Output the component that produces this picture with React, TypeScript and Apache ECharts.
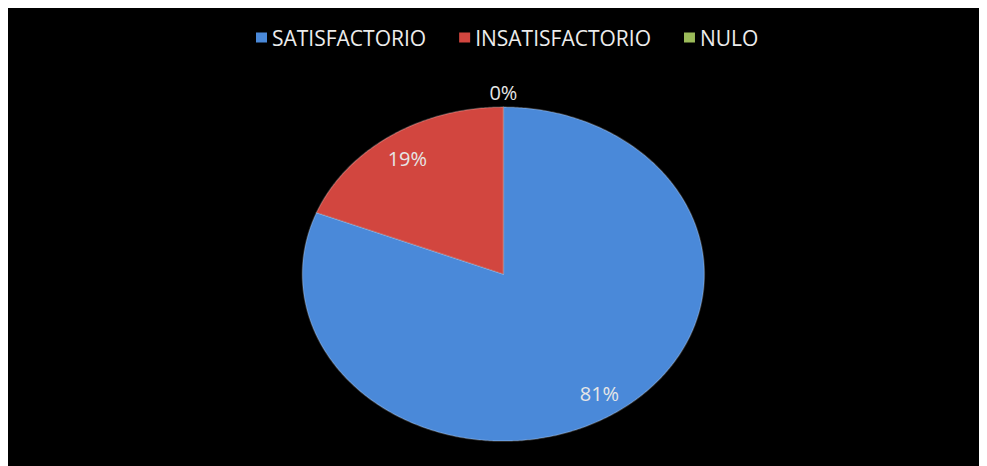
import React, { useEffect, useRef } from "react";
import * as echarts from "echarts";

const categories = ["SATISFACTORIO", "INSATISFACTORIO", "NULO"];
const values = [81, 19, 0];
const labels = ["81%", "19%", "0%"];
const colors = ["#4a89d9", "#d2463f", "#9bbb59"];

export default function App() {
  const ref = useRef<HTMLDivElement>(null);
  useEffect(() => {
    if (!ref.current) return;
    const chart = echarts.init(ref.current, null, { renderer: "svg" });
    const total = values.reduce((a, b) => a + b, 0);
    const series = categories.map((name, i) => {
      const before = values.slice(0, i).reduce((a, b) => a + b, 0);
      return {
        type: "custom",
        name,
        coordinateSystem: "none",
        data: [[values[i]]],
        itemStyle: { color: colors[i] },
        renderItem: (params: any, api: any) => {
          const w = api.getWidth();
          const h = api.getHeight();
          const cx = w * 0.506;
          const cy = h * 0.581;
          const rx = 201;
          const ry = 167;
          const v = api.value(0);
          const a0 = (before / total) * Math.PI * 2;
          const a1 = ((before + v) / total) * Math.PI * 2;
          const children: any[] = [];
          if (v > 0) {
            const pts: number[][] = [[cx, cy]];
            const steps = Math.max(4, Math.ceil((a1 - a0) / 0.01));
            for (let k = 0; k <= steps; k++) {
              const a = a0 + ((a1 - a0) * k) / steps;
              pts.push([cx + rx * Math.sin(a), cy - ry * Math.cos(a)]);
            }
            children.push({
              type: "polygon",
              shape: { points: pts },
              style: {
                fill: colors[i],
                stroke: "rgba(255,255,255,0.22)",
                lineWidth: 1.5,
                lineJoin: "round",
              },
            });
          }
          const am = (a0 + a1) / 2;
          const rf = v > 0 ? 0.85 : 1.09;
          children.push({
            type: "text",
            x: cx + rx * rf * Math.sin(am),
            y: cy - ry * rf * Math.cos(am) + (v > 0 ? 2 : 0),
            style: {
              text: labels[i],
              fill: "#e6e6e6",
              font: '20px "Open Sans"',
              align: "center",
              verticalAlign: "middle",
            },
          });
          return { type: "group", children };
        },
      };
    });
    chart.setOption({
      animation: false,
      backgroundColor: "#000000",
      legend: {
        data: categories,
        top: 14,
        left: 243,
        icon: "rect",
        itemWidth: 11,
        itemHeight: 10,
        itemGap: 33,
        textStyle: { color: "#ececec", fontSize: 21, fontFamily: "Open Sans" },
      },
      series,
    });
    return () => chart.dispose();
  }, []);
  return <div ref={ref} style={{ width: 979, height: 458 }} />;
}
